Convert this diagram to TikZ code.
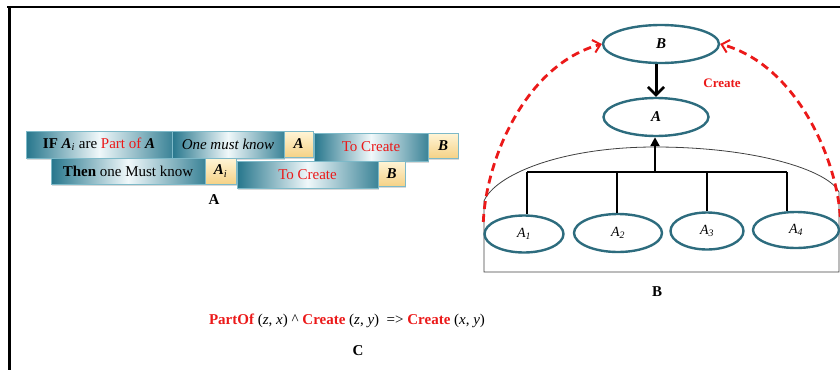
\documentclass[tikz,border=0pt]{standalone}
\usepackage{fontspec}
\setmainfont{Liberation Serif}
\usetikzlibrary{arrows.meta,shapes.geometric,shadows}
\definecolor{tealD}{RGB}{38,118,140}
\definecolor{tealL}{RGB}{240,248,250}
\definecolor{tealEdge}{RGB}{125,185,200}
\definecolor{ringC}{RGB}{45,108,126}
\definecolor{goldL}{RGB}{255,245,215}
\definecolor{goldD}{RGB}{245,210,135}
\definecolor{redT}{RGB}{235,25,25}
\newcommand{\bi}[1]{\textbf{\textit{#1}}}
\begin{document}
\begin{tikzpicture}[x=1pt,y=-1pt,
  every node/.style={font=\fontsize{15}{17}\selectfont, inner sep=0pt},
  boxshadow/.style={drop shadow={opacity=0.3, shadow xshift=1pt, shadow yshift=-2pt}},
  barbox/.style={draw=tealEdge, line width=0.6pt, left color=tealD, right color=tealD!90,
    middle color=tealL, boxshadow},
  keybox/.style={draw=tealEdge, line width=0.6pt, top color=goldL, bottom color=goldD, boxshadow},
  ring/.style={ellipse, draw=ringC, line width=2.4pt, inner sep=0pt},
  small/.style={font=\fontsize{14}{16}\selectfont},
  tree/.style={line width=2.6pt},
  create/.style={draw=redT, line width=2.8pt, dash pattern=on 8pt off 5pt,
    -{Straight Barb[length=7pt,width=13pt,line width=2pt]}},
]
\useasboundingbox (0,0) rectangle (840,370);

% page frame
\draw[line width=2pt] (7,7) -- (840,7);
\draw[line width=3pt] (9.5,7) -- (9.5,370);

% ---- panel A: the rule as a row of boxes
\node[barbox, minimum width=146pt, minimum height=27pt] (r1a) at (99,144.5)
  {\textbf{IF} \bi{A}\textsubscript{\textit{i}} are \textcolor{redT}{Part of} \bi{A}};
\node[barbox, minimum width=112pt, minimum height=27pt] (r1b) at (228,144.5)
  {\textit{One must know}};
\node[keybox, minimum width=29pt, minimum height=26pt] (r1c) at (298.5,144) {\bi{A}};
\node[barbox, minimum width=114pt, minimum height=28pt] (r1d) at (371,147)
  {\textcolor{redT}{To Create}};
\node[keybox, minimum width=30pt, minimum height=25pt] (r1e) at (443,145.5) {\bi{B}};

\node[barbox, minimum width=154pt, minimum height=26pt] (r2a) at (128,171)
  {\textbf{Then} one Must know};
\node[keybox, minimum width=31pt, minimum height=26pt] (r2b) at (220.5,171)
  {\bi{A}\textsubscript{\textit{i}}};
\node[barbox, minimum width=141pt, minimum height=27pt] (r2c) at (307.5,174.5)
  {\textcolor{redT}{To Create}};
\node[keybox, minimum width=27pt, minimum height=25pt] (r2d) at (391.5,173.5) {\bi{B}};

\node (capA) at (214,200) {\textbf{A}};

% ---- panel B: part hierarchy
\draw[draw=black!75, line width=0.8pt]
  (484,201) .. controls (495,175) and (560,147) .. (655,147)
  .. controls (755,147) and (828,170) .. (839,192)
  -- (839,272) -- (484,272) -- cycle;

\node[ring, minimum width=116pt, minimum height=38pt] (B) at (661,44) {\bi{B}};
\node[ring, minimum width=105pt, minimum height=38pt] (A) at (656,117) {\bi{A}};
\node[ring, small, minimum width=79pt, minimum height=37pt, fill=white] (A1) at (524,234)
  {\textit{A}\textsubscript{\textit{1}}};
\node[ring, small, minimum width=88pt, minimum height=38pt, fill=white] (A2) at (618,233)
  {\textit{A}\textsubscript{\textit{2}}};
\node[ring, small, minimum width=73pt, minimum height=37pt, fill=white] (A3) at (707,231)
  {\textit{A}\textsubscript{\textit{3}}};
\node[ring, small, minimum width=86pt, minimum height=36pt, fill=white] (A4) at (796,230)
  {\textit{A}\textsubscript{\textit{4}}};

% tree joining the parts to A
\coordinate (bus) at (655,172);
\coordinate (jL) at (527,172);
\coordinate (j2) at (617,172);
\coordinate (j3) at (707,172);
\coordinate (jR) at (787,172);
\draw[tree] (jL) -- (jR);
\draw[tree] (jL) -- (jL |- A1.north);
\draw[tree] (j2) -- (j2 |- A2.north);
\draw[tree] (j3) -- (j3 |- A3.north);
\draw[tree] (jR) -- (jR |- A4.north);
\draw[tree, -{Triangle[length=9pt,width=9pt]}] (bus) -- (bus |- A.south);
\draw[line width=3pt, -{Straight Barb[length=8pt,width=16pt,line width=2.6pt]}]
  (A.north |- B.south) -- (A.north);

% "create" links from the outer parts up to B
\draw[create] (A1.west |- 0,222) .. controls (486,160) and (525,65) .. (B.west);
\draw[create] (A4.east |- 0,217) .. controls (837,160) and (797,65) .. (B.east);
\node[font=\fontsize{13}{15}\selectfont, text=redT] (lblC) at (722,83) {\textbf{Create}};

\node (capB) at (657,292) {\textbf{B}};

% ---- panel C: the rule as a formula
\node (rule) at (347,321)
  {\textcolor{redT}{\textbf{PartOf}} (\textit{z}, \textit{x}) \textasciicircum{}
   \textcolor{redT}{\textbf{Create}} (\textit{z}, \textit{y})\ \ =>
   \textcolor{redT}{\textbf{Create}} (\textit{x}, \textit{y})};
\node (capC) at (358,351) {\textbf{C}};
\end{tikzpicture}
\end{document}
